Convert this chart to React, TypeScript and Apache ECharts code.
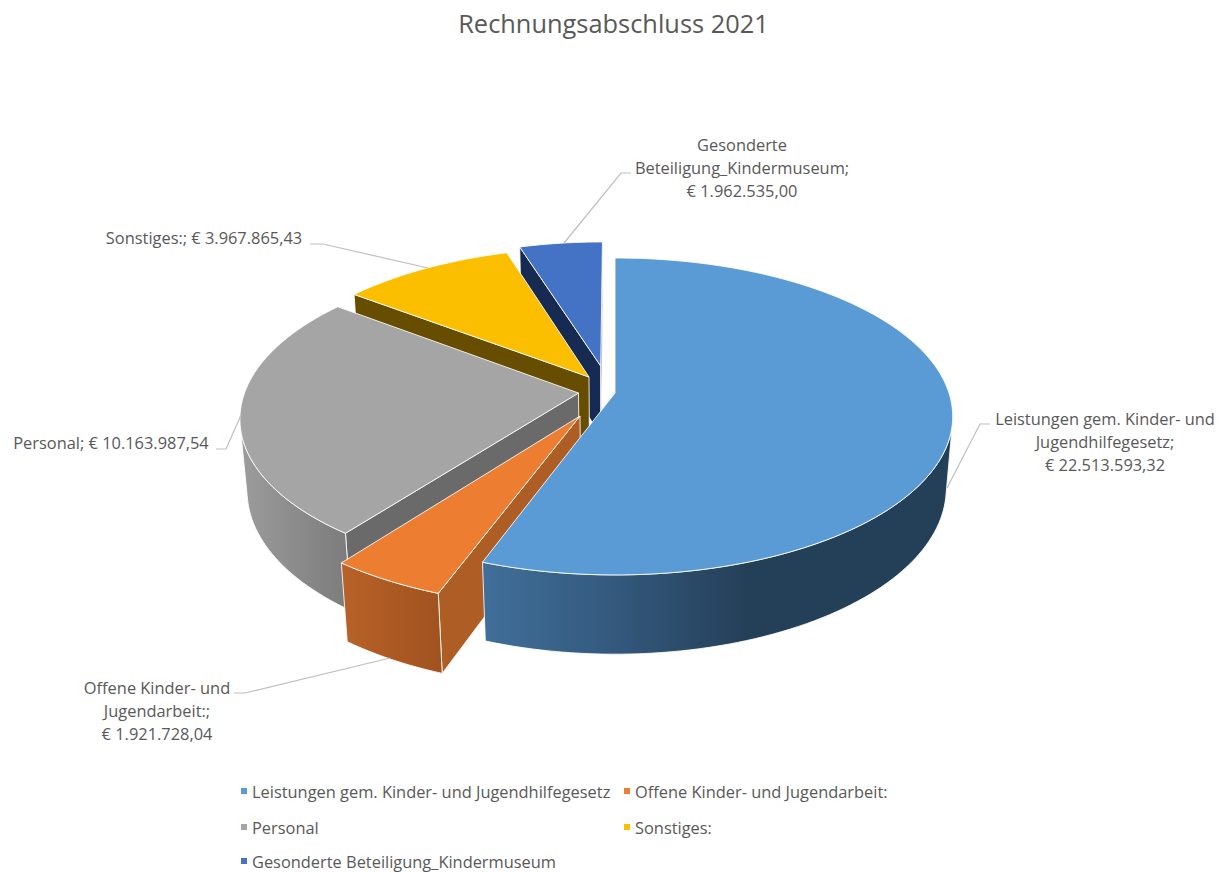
import React, { useEffect, useRef } from "react";
import * as echarts from "echarts";

const titleText = "Rechnungsabschluss 2021";
const categories = [
  "Leistungen gem. Kinder- und Jugendhilfegesetz",
  "Offene Kinder- und Jugendarbeit:",
  "Personal",
  "Sonstiges:",
  "Gesonderte Beteiligung_Kindermuseum",
];
const values = [22513593.32, 1921728.04, 10163987.54, 3967865.43, 1962535.0];
const labelNameLines = [
  ["Leistungen gem. Kinder- und", "Jugendhilfegesetz;"],
  ["Offene Kinder- und", "Jugendarbeit:;"],
  ["Personal;"],
  ["Sonstiges:;"],
  ["Gesonderte", "Beteiligung_Kindermuseum;"],
];

// ---- styles and layout -------------------------------------------------
const FONT = '"Open Sans", sans-serif';
const TEXT = "#595959";
const topColors = ["#5b9bd5", "#ed7d31", "#a5a5a5", "#fbbf00", "#4472c4"];
const sideColors = ["#243f58", "#ae5e24", "#6a6a6a", "#674d00", "#172b52"];
const wallStops: [number, string][][] = [
  [[0, "#406f9a"], [0.28, "#34597d"], [0.57, "#243f58"], [1, "#243f58"]],
  [[0, "#b86228"], [1, "#a0521f"]],
  [[0, "#9c9c9c"], [1, "#7b7b7b"]],
  [[0, "#674d00"], [1, "#674d00"]],
  [[0, "#172b52"], [1, "#172b52"]],
];
// apex of each exploded slice on screen, and its radius relative to the largest
const apexes = [[615, 393], [580, 416], [578.5, 393], [589, 377], [600.7, 366]];
const radii = [1, 1, 1, 0.985, 0.96];
const paintOrder = [4, 3, 2, 1, 0];
const legendPos = [[241, 783], [624, 783], [241, 819], [624, 819], [241, 853]];
const labelPos = [
  { x: 1105, y: 407, align: "center" },
  { x: 157, y: 676, align: "center" },
  { x: 111, y: 431, align: "center" },
  { x: 204, y: 226, align: "center" },
  { x: 742, y: 133, align: "center" },
];
const leaderLines = [
  [[990, 424], [980, 424], [947, 488]],
  [[234, 693], [245, 693], [390, 658]],
  [[216, 449], [226, 449], [241, 415]],
  [[310, 244], [323, 244], [428, 268]],
  [[631, 173], [621, 173], [564, 243]],
];

// ---- perspective projection of the pie's ground plane -------------------
const CX = 615, CY = 393, S = 334, K = 155, P = 0.148, TAN = 0.524, COS = 0.886, H = 0.245;
function project(X: number, Y: number, Z: number): number[] {
  const w = 1 + P * Y - P * TAN * Z;
  return [CX + (S * X) / w, CY - (K * Y + S * COS * Z) / w];
}
function unprojectGround(sx: number, sy: number): number[] {
  const dy = sy - CY;
  const Y = -dy / (K + P * dy);
  return [((sx - CX) * (1 + P * Y)) / S, Y];
}
function area(q: number[][]): number {
  let a = 0;
  for (let i = 0; i < q.length; i++) {
    const u = q[i], v = q[(i + 1) % q.length];
    a += u[0] * v[1] - v[0] * u[1];
  }
  return a;
}

const total = values.reduce((a, b) => a + b, 0);
const startFractions = values.map((_, i) => values.slice(0, i).reduce((a, b) => a + b, 0) / total);

function euro(v: number): string {
  const [i, d] = v.toFixed(2).split(".");
  return "€ " + i.replace(/\B(?=(\d{3})+(?!\d))/g, ".") + "," + d;
}

function sliceChildren(idx: number, value: number) {
  const a0 = startFractions[idx] * Math.PI * 2;
  const a1 = a0 + (value / total) * Math.PI * 2;
  const [ox, oy] = unprojectGround(apexes[idx][0], apexes[idx][1]);
  const R = radii[idx];
  const steps = Math.max(6, Math.ceil((a1 - a0) / (Math.PI / 120)));
  const top: number[][] = [];
  const bot: number[][] = [];
  for (let i = 0; i <= steps; i++) {
    const a = a0 + ((a1 - a0) * i) / steps;
    const X = ox + R * Math.sin(a), Y = oy + R * Math.cos(a);
    top.push(project(X, Y, 0));
    bot.push(project(X, Y, -H));
  }
  const apT = project(ox, oy, 0);
  const apB = project(ox, oy, -H);
  const edge = { stroke: "rgba(255,255,255,0.85)", lineWidth: 1, lineJoin: "round" };
  const children: any[] = [];
  const addFlat = (pts: number[][]) => {
    if (area(pts) < -1)
      children.push({ type: "polygon", shape: { points: pts }, style: { fill: sideColors[idx], ...edge } });
  };
  addFlat([apT, top[0], bot[0], apB]);
  addFlat([top[steps], apT, apB, bot[steps]]);
  // outer wall: the run of segments that face the camera
  const run: number[] = [];
  for (let i = 0; i < steps; i++) {
    if (area([top[i], top[i + 1], bot[i + 1], bot[i]]) < 0) {
      if (run.length === 0) run.push(i);
      run.push(i + 1);
    }
  }
  if (run.length > 1) {
    const u = run.map((i) => top[i]);
    const l = run.map((i) => bot[i]).reverse();
    children.push({
      type: "polygon",
      shape: { points: [...u, ...l] },
      style: {
        fill: new echarts.graphic.LinearGradient(
          0, 0, 1, 0,
          wallStops[idx].map(([offset, color]) => ({ offset, color }))
        ),
        ...edge,
      },
    });
  }
  children.push({
    type: "polygon",
    shape: { points: [apT, ...top] },
    style: { fill: topColors[idx], ...edge },
  });
  return children;
}

const App: React.FC = () => {
  const ref = useRef<HTMLDivElement>(null);
  useEffect(() => {
    document.body.style.margin = "0";
    const chart = echarts.init(ref.current!, undefined, { renderer: "svg" });
    const series = paintOrder.map((idx) => ({
      type: "custom" as const,
      name: categories[idx],
      coordinateSystem: "none",
      silent: true,
      itemStyle: { color: topColors[idx] },
      data: [[values[idx]]],
      renderItem: (_p: any, api: any) => ({
        type: "group",
        children: sliceChildren(idx, api.value(0)),
      }),
    }));
    const labelGraphics: any[] = [];
    categories.forEach((_, i) => {
      labelGraphics.push({
        type: "polyline",
        silent: true,
        z: 5,
        shape: { points: leaderLines[i] },
        style: { stroke: "#bfbfbf", lineWidth: 1.2, fill: "none" },
      });
      const names = labelNameLines[i];
      const text = names.length === 1 ? `${names[0]} ${euro(values[i])}` : [...names, euro(values[i])].join("\n");
      labelGraphics.push({
        type: "text",
        silent: true,
        z: 6,
        x: labelPos[i].x,
        y: labelPos[i].y,
        style: {
          text,
          textAlign: labelPos[i].align,
          fill: TEXT,
          font: `16.4px ${FONT}`,
          lineHeight: 23,
        },
      });
    });
    chart.setOption({
      animation: false,
      backgroundColor: "#ffffff",
      title: {
        text: titleText,
        left: 608.5,
        top: 5,
        textAlign: "center",
        textStyle: { color: TEXT, fontSize: 25.4, fontWeight: "normal", fontFamily: FONT },
      },
      legend: categories.map((name, i) => ({
        data: [name],
        left: legendPos[i][0],
        top: legendPos[i][1],
        padding: 0,
        icon: "rect",
        itemWidth: 6,
        itemHeight: 6,
        selectedMode: false,
        textStyle: { color: TEXT, fontSize: 16.4, fontFamily: FONT },
      })),
      series,
      graphic: labelGraphics,
    });
    return () => chart.dispose();
  }, []);
  return <div ref={ref} style={{ width: 1225, height: 873 }} />;
};

export default App;
